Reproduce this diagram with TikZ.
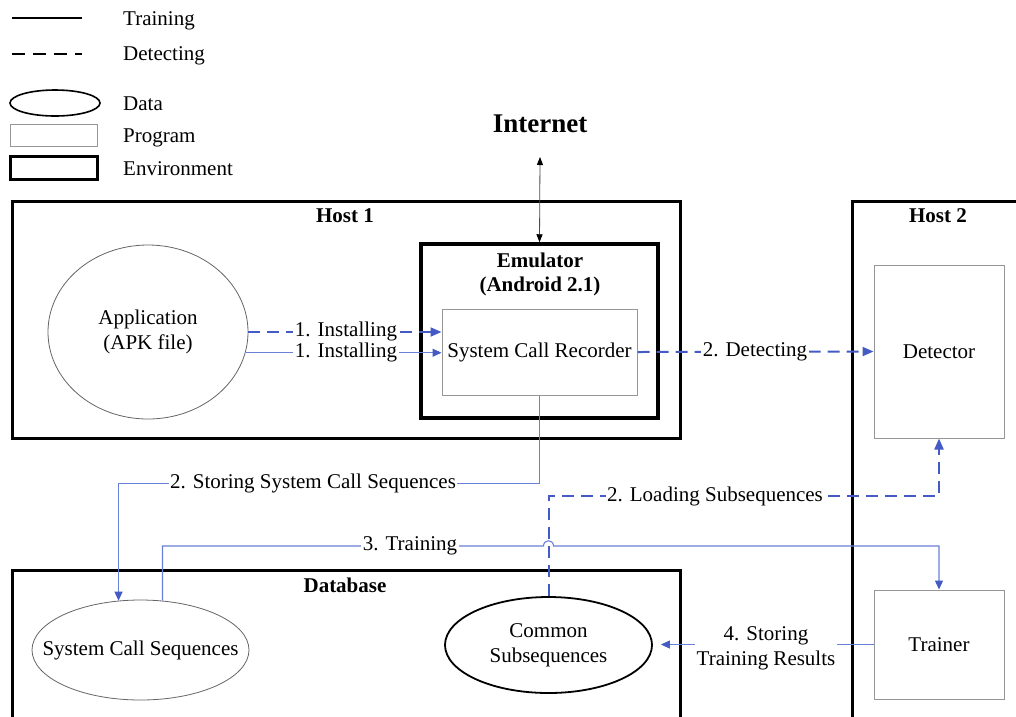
\documentclass[tikz,border=0pt]{standalone}
\usepackage{fontspec}
\setmainfont{Liberation Serif}
\usetikzlibrary{arrows.meta,shapes.geometric,calc}
\definecolor{bl}{RGB}{68,90,196}
\definecolor{bls}{RGB}{105,128,215}
\definecolor{gr}{RGB}{150,150,150}
\begin{document}
\begin{tikzpicture}[x=1pt,y=-1pt,
  txt/.style={font=\fontsize{21}{25}\selectfont, align=center, inner sep=1pt},
  btxt/.style={font=\fontsize{21}{24}\selectfont\bfseries, align=center, inner sep=1pt},
  legtxt/.style={font=\fontsize{21}{25}\selectfont, anchor=base west, inner sep=0pt},
  envbox/.style={draw=black, line width=3pt, rectangle, inner sep=0pt},
  progbox/.style={draw=gr, line width=1pt, rectangle, txt},
  dataell/.style={ellipse, draw=black!60, line width=0.8pt, txt},
  lbl/.style={txt, fill=white, inner sep=1.5pt},
  trn/.style={draw=bls, line width=1.1pt, -{Triangle[length=9pt,width=8pt,color=bl]}},
  dline/.style={draw=bl, line width=2pt, dash pattern=on 12pt off 7pt, -{Triangle[length=11pt,width=9pt,color=bl]}}
]
\clip (0,0) rectangle (1016,716);
\fill[white] (0,0) rectangle (1016,716);

% ---------- legend ----------
\coordinate (l1a) at (12,18); \coordinate (l1b) at (82,18);
\coordinate (l2a) at (12,54); \coordinate (l2b) at (82,54);
\draw[black, line width=1.4pt] (l1a) -- (l1b);
\draw[black, line width=2pt, dash pattern=on 13pt off 8pt] (l2a) -- (l2b);
\node[ellipse, draw=black, line width=1.6pt, minimum width=90pt, minimum height=26pt, inner sep=0pt] (legdata) at (55,103) {};
\node[draw=gr, line width=1pt, minimum width=87pt, minimum height=22pt, inner sep=0pt] (legprog) at (53.5,135) {};
\node[draw=black, line width=3pt, minimum width=87pt, minimum height=23pt, inner sep=0pt] (legenv) at (53.5,167.5) {};
\node[legtxt] (lt1) at (123,25) {Training};
\node[legtxt] (lt2) at (123,60) {Detecting};
\node[legtxt] (lt3) at (123,110) {Data};
\node[legtxt] (lt4) at (123,142) {Program};
\node[legtxt] (lt5) at (123,175) {Environment};

% ---------- environments ----------
\node[envbox, minimum width=668pt, minimum height=237pt] (host1) at (346,319.5) {};
\node[btxt] (host1lbl) at (345,216) {Host 1};
\node[envbox, line width=3.5pt, minimum width=237pt, minimum height=174pt] (emu) at (539.5,331) {};
\node[btxt] (emulbl) at (540,274) {Emulator\\(Android 2.1)};
\node[envbox, minimum width=178pt, minimum height=529pt] (host2) at (941,465.5) {};
\node[btxt] (host2lbl) at (938,216) {Host 2};
\node[envbox, minimum width=668pt, minimum height=160pt] (db) at (346,650) {};
\node[btxt] (dblbl) at (345,585) {Database};

% ---------- programs and data ----------
\node[progbox, minimum width=195pt, minimum height=86pt] (scr) at (539.5,352) {System Call Recorder};
\node[progbox, minimum width=130pt, minimum height=173pt] (detector) at (939,351.5) {Detector};
\node[progbox, minimum width=130pt, minimum height=109pt] (trainer) at (939,644.5) {Trainer};
\node[dataell, minimum width=200pt, minimum height=174pt] (app) at (148,332) {Application\\(APK file)};
\node[ellipse, draw=black!60, line width=0.8pt, inner sep=0pt, minimum width=217pt, minimum height=100pt] (scs) at (140.5,650) {};
\node[txt] (scslbl) at (140.5,650) {System Call Sequences};
\node[ellipse, draw=black, line width=1.8pt, txt, minimum width=207pt, minimum height=96pt] (cs) at (548.5,645) {Common\\Subsequences};

\node[font=\fontsize{27}{30}\selectfont\bfseries, inner sep=1pt] (inet) at (540,124) {Internet};
\coordinate (inetp) at (540,157);
\draw[draw=black!70, line width=0.8pt, {Triangle[length=8pt,width=6pt,color=black]}-{Triangle[length=8pt,width=6pt,color=black]}] (inetp) -- (emu.north);

% ---------- connectors ----------
\draw[dline] (app.east) -- (app.east -| scr.west);
\draw[trn] (app.-12) -- (app.-12 -| scr.west);
\draw[dline] (scr.east) -- (detector.west);
\draw[trn] (scr.south) -- ++(0,88) -| (scs.114);
\coordinate (loadturn) at (939,496);
\draw[dline] (cs.north) |- (loadturn) -- (detector.south);
\coordinate (jl) at (543.5,546);
\coordinate (jr) at (553.5,546);
\draw[trn] (scs.66) |- (jl) .. controls +(0,-7) and +(0,-7) .. (jr) -| (trainer.north);
\draw[trn, shorten >=8pt] (trainer.west) -- (trainer.west -| cs.east);

% ---------- connector labels ----------
\node[lbl] (lb1) at (346,331) {1. Installing};
\node[lbl] (lb2) at (346,352) {1. Installing};
\node[lbl] (lb3) at (755,352) {2. Detecting};
\node[lbl] (lb4) at (313,483) {2. Storing System Call Sequences};
\node[lbl] (lb5) at (715,496) {2. Loading Subsequences};
\node[lbl] (lb6) at (410,546) {3. Training};
\node[lbl] (lb7) at (766,648) {4. Storing\\Training Results};
\end{tikzpicture}
\end{document}
